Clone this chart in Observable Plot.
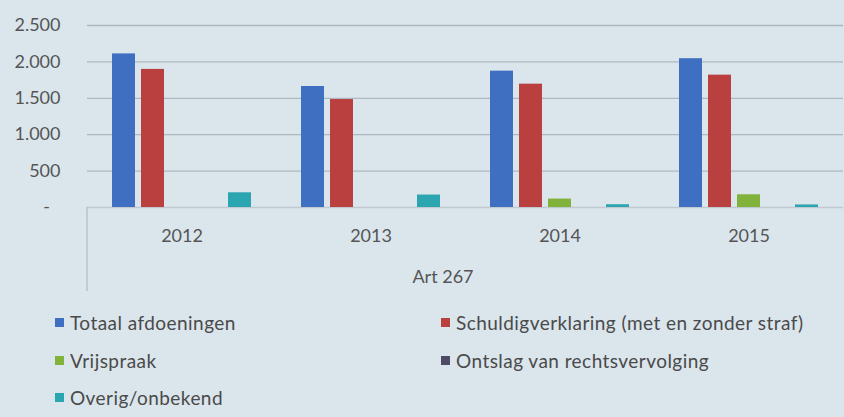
<!DOCTYPE html>
<html>
<head>
<meta charset="utf-8">
<script src="https://cdn.jsdelivr.net/npm/d3@7"></script>
<script src="https://cdn.jsdelivr.net/npm/@observablehq/plot@0.6"></script>
<style>
  html, body { margin: 0; padding: 0; background: #DAE5EC; }
  body { width: 844px; height: 417px; overflow: hidden; position: relative; font-family: Lato, "Liberation Sans", sans-serif; }
  #chart svg { display: block; background: transparent; }
  #legend { position: absolute; left: 0; top: 311px; width: 844px; }
  .item { position: absolute; display: flex; align-items: center; font-size: 19px; letter-spacing: 0.45px; color: #4a4a4a; white-space: nowrap; }
  .sw { width: 9px; height: 9px; margin-right: 6px; }
</style>
</head>
<body>
<div id="chart"></div>
<div id="legend"></div>
<script>
const years = ["2012", "2013", "2014", "2015"];
const seriesNames = [
  "Totaal afdoeningen",
  "Schuldigverklaring (met en zonder straf)",
  "Vrijspraak",
  "Ontslag van rechtsvervolging",
  "Overig/onbekend"
];
const totaalAfdoeningen = [2110, 1662, 1873, 2044];
const schuldigverklaring = [1897, 1483, 1694, 1818];
const vrijspraak = [0, 0, 116, 175];
const ontslag = [0, 0, 0, 0];
const overig = [202, 171, 38, 35];
const seriesColors = ["#3F6FC1", "#B9403F", "#80B23C", "#4F4A66", "#2BA5AF"];
const yTicks = [0, 500, 1000, 1500, 2000, 2500];
const axisLabel = "Art 267";

const seriesValues = [totaalAfdoeningen, schuldigverklaring, vrijspraak, ontslag, overig];
const data = [];
years.forEach((yr, i) => {
  seriesNames.forEach((s, j) => data.push({year: yr, series: s, value: seriesValues[j][i]}));
});

const nl = d3.formatLocale({decimal: ",", thousands: ".", grouping: [3], currency: ["€", ""]});
const fmt = nl.format(",");

const chart = Plot.plot({
  width: 844,
  height: 300,
  marginLeft: 85,
  marginRight: 0,
  marginTop: 25,
  marginBottom: 93,
  style: {fontFamily: "Lato, 'Liberation Sans', sans-serif", fontSize: "18px", color: "#555", background: "transparent"},
  fx: {domain: years, padding: 0, tickSize: 0, tickPadding: 22, label: null},
  x: {domain: seriesNames, paddingInner: 0.2, paddingOuter: 0.85, axis: null},
  y: {domain: [0, 2500], ticks: yTicks, tickSize: 0, tickPadding: 27, label: null,
      tickFormat: d => d === 0 ? "-\u2007" : fmt(d)},
  color: {domain: seriesNames, range: seriesColors},
  marks: [
    Plot.ruleY(yTicks.filter(d => d > 0), {stroke: "#AEB8C0", strokeWidth: 1.3}),
    Plot.ruleY([0], {stroke: "#C0C9D0", strokeWidth: 1.3}),
    Plot.barY(data, {fx: "year", x: "series", y: "value", fill: "series"})
  ]
});
document.getElementById("chart").appendChild(chart);

// left boundary line of the category axis and the axis title, from the fx and y scales
const fxS = chart.scale("fx");
const yS = chart.scale("y");
const svg = d3.select(chart);
const x0 = fxS.apply(years[0]);
const x1 = fxS.apply(years[years.length - 1]) + fxS.bandwidth;
svg.append("line")
  .attr("x1", x0).attr("x2", x0)
  .attr("y1", yS.apply(0)).attr("y2", 291)
  .attr("stroke", "#B3BDC5").attr("stroke-width", 1.3);
svg.append("text")
  .attr("x", (x0 + x1) / 2 - 22).attr("y", 277).attr("dy", "0.35em")
  .attr("text-anchor", "middle").attr("fill", "#555")
  .attr("font-size", 18)
  .text(axisLabel);

// legend
const legendPos = [[55, 0], [441, 0], [55, 1], [441, 1], [55, 2]];
const legend = document.getElementById("legend");
seriesNames.forEach((s, i) => {
  const it = document.createElement("div");
  it.className = "item";
  it.style.left = legendPos[i][0] + "px";
  it.style.top = (legendPos[i][1] * 37.5) + "px";
  const sw = document.createElement("span");
  sw.className = "sw";
  sw.style.background = seriesColors[i];
  it.appendChild(sw);
  it.appendChild(document.createTextNode(s));
  legend.appendChild(it);
});
</script>
</body>
</html>
